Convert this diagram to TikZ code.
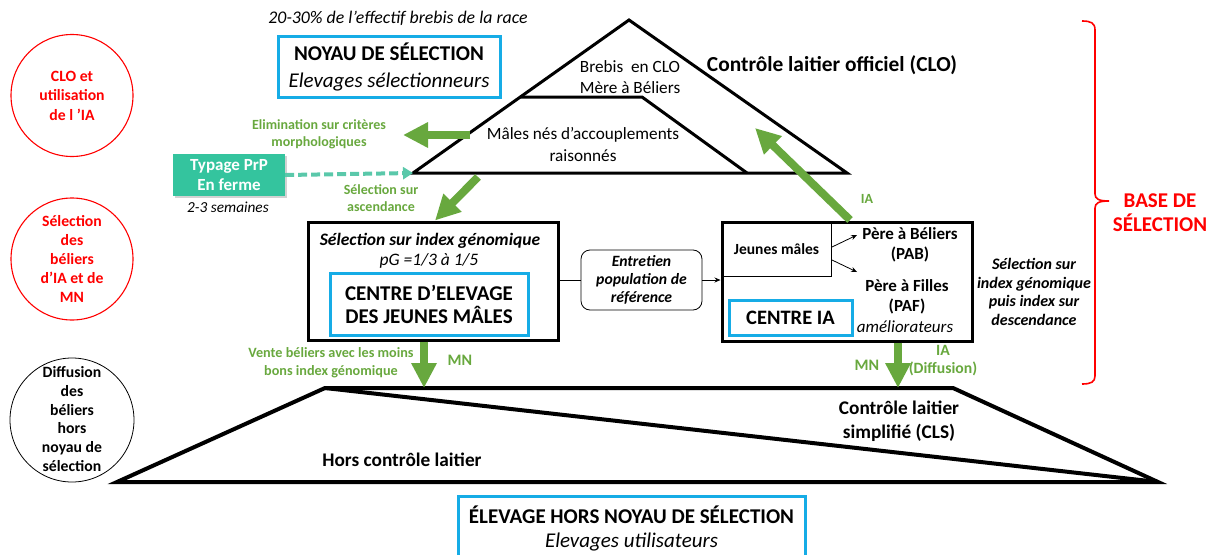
\documentclass[tikz,border=0pt]{standalone}
\usepackage{fontspec}
\setmainfont{Carlito}
\usetikzlibrary{arrows.meta,shadows}
\definecolor{grn}{RGB}{104,168,62}
\definecolor{cyanb}{RGB}{22,172,230}
\definecolor{tealbox}{RGB}{52,196,158}
\definecolor{tealdash}{RGB}{90,200,170}
\newcommand{\fsz}[2]{\fontsize{#1}{#2}\selectfont}
\tikzset{
  txt/.style={inner sep=0pt, align=center},
  bluebox/.style={draw=cyanb, line width=3pt, inner sep=0pt, align=center},
  blackbox/.style={draw=black, line width=3pt, inner sep=0pt},
  garrow/.style={draw=grn, line width=8pt, -{Triangle[length=25pt,width=24pt]}},
  glabel/.style={txt, text=grn, font=\bfseries\fsz{14}{17}},
  redcirc/.style={circle, draw=red, line width=1.1pt, inner sep=0pt, minimum size=122pt},
  thinarrow/.style={-{Stealth[length=6pt,width=5pt]}, line width=0.8pt},
}
\begin{document}
\begin{tikzpicture}[x=1pt,y=-1pt]
\useasboundingbox (0,0) rectangle (1215,554);

% left circles
\node[redcirc] (c1) at (72,95.5) {};
\node[redcirc] (c2) at (72,259) {};
\node[redcirc, draw=black, line width=0.8pt, minimum size=124pt] (c3) at (72,420) {};
\node[txt, text=red, font=\bfseries\fsz{15.7}{19.5}] (t1) at (c1) {CLO et\\utilisation\\de l 'IA};
\node[txt, text=red, font=\bfseries\fsz{15.7}{18.8}] (t2) at (c2) {Sélection\\des\\béliers\\d’IA et de\\MN};
\node[txt, font=\bfseries\fsz{15.7}{18.8}] (t3) at (72,419) {Diffusion\\des\\béliers\\hors\\noyau de\\sélection};

% top triangle
\coordinate (apex) at (629,20);
\coordinate (tl) at (413,173);
\coordinate (tr) at (847,173);
\coordinate (il) at (520.3,97);
\coordinate (ir) at (642,97);
\coordinate (ib) at (747,173);
\draw[line width=3pt, line join=miter] (apex) -- (tr) -- (tl) -- cycle;
\draw[line width=3pt] (il) -- (ir) -- (ib);
\node[txt, font=\fsz{17.2}{21}] (brebis) at (630,77) {Brebis\ \ en CLO\\Mère à Béliers};
\node[txt, font=\fsz{17.2}{22}] (males) at (583,144) {Mâles nés d’accouplements\\raisonnés};
\node[txt, font=\bfseries\fsz{21.4}{24}] (clo) at (832,65) {Contrôle laitier officiel (CLO)};
\node[txt, font=\itshape\fsz{17.8}{19}] (pct) at (398,18) {20-30\% de l’effectif brebis de la race};

% noyau box
\node[bluebox, minimum width=222pt, minimum height=61pt, font=\fsz{21}{27}] (noyau) at (389,66.5)
  {\textbf{NOYAU DE SÉLECTION}\\\textit{Elevages sélectionneurs}};

% typage box
\node[fill=tealbox, minimum width=112pt, minimum height=42pt, inner sep=0pt, align=center,
  text=white, font=\bfseries\fsz{17}{20},
  drop shadow={shadow xshift=2pt, shadow yshift=-2pt, fill=black!35}] (typ) at (229,175) {Typage PrP\\En ferme};
\node[txt, font=\itshape\fsz{15.3}{18}] (sem) at (228,207) {2-3 semaines};
\draw[tealdash, line width=4pt, dash pattern=on 9pt off 4pt, -{Triangle[length=10pt,width=12pt]}] (typ.east) -- (tl);

% green arrows from triangle
\coordinate (elimA) at (470,135);
\coordinate (elimB) at (403,135);
\draw[garrow] (elimA) -- (elimB);
\node[glabel] (elimL) at (319,134) {Elimination sur critères\\morphologiques};
\coordinate (ascA) at (478,177);
\node[glabel] (ascL) at (381,198) {Sélection sur\\ascendance};

% left box
\node[blackbox, minimum width=250pt, minimum height=118pt] (lbox) at (433,281) {};
\draw[garrow] (ascA) -- (lbox.north -| 435,0);
\node[txt, font=\bfseries\itshape\fsz{17.5}{20}] (selg) at (430,241) {Sélection sur index génomique};
\node[txt, font=\itshape\fsz{17.5}{20}] (pg) at (429,261) {pG =1/3 à 1/5};
\node[bluebox, minimum width=198pt, minimum height=62pt, font=\bfseries\fsz{21}{23}] (cejm) at (429,304) {CENTRE D’ELEVAGE\\DES JEUNES MÂLES};

% entretien
\node[draw, rounded corners=9pt, line width=0.8pt, minimum width=121pt, minimum height=60pt, inner sep=0pt, align=center,
  font=\bfseries\itshape\fsz{15.7}{18.3}] (ent) at (641.5,280) {Entretien\\population de\\référence};

% right box
\node[blackbox, minimum width=250pt, minimum height=119pt] (rbox) at (847,281.5) {};
\draw[line width=0.8pt] (lbox.east |- ent.west) -- (ent.west);
\draw[thinarrow] (ent.east) -- (rbox.west |- ent.east);
\node[draw, line width=0.8pt, minimum width=109pt, minimum height=54pt, inner sep=0pt, font=\bfseries\fsz{15.5}{18}] (jm) at (776.5,249) {Jeunes mâles};
\node[txt, font=\bfseries\fsz{17}{20}] (pab) at (910,245) {Père à Béliers\\(PAB)};
\node[txt, font=\bfseries\fsz{17}{20}] (paf) at (907,297) {Père à Filles\\(PAF)};
\node[txt, font=\itshape\fsz{17}{20}] (amel) at (905,327) {améliorateurs};
\coordinate (a1s) at (832,247);
\coordinate (a1e) at (857,235);
\coordinate (a2s) at (832,260);
\coordinate (a2e) at (857,272);
\draw[thinarrow] (a1s) -- (a1e);
\draw[thinarrow] (a2s) -- (a2e);
\node[bluebox, minimum width=123pt, minimum height=35pt, font=\bfseries\fsz{20.5}{23}] (cia) at (790.5,317.5) {CENTRE IA};

% IA arrow
\coordinate (iaA) at (850,220);
\coordinate (iaB) at (755,128);
\draw[garrow] (iaA) -- (iaB);
\node[glabel] (iaL) at (867,199) {IA};

\node[txt, font=\bfseries\itshape\fsz{16}{18.8}] (selr) at (1034,292) {Sélection sur\\index génomique\\puis index sur\\descendance};

% brace
\coordinate (brT) at (1082,21);
\coordinate (brM) at (1109,201);
\coordinate (brB) at (1082,384);
\draw[red, line width=1.6pt] (brT) .. controls (1091,21) and (1095,23) .. (1095,30) -- (1095,194)
  .. controls (1095,199) and (1099,201) .. (brM)
  .. controls (1099,201) and (1095,203) .. (1095,208) -- (1095,376)
  .. controls (1095,382) and (1091,384) .. (brB);
\node[txt, text=red, font=\bfseries\fsz{21}{24}] (base) at (1160,213) {BASE DE\\SÉLECTION};

% lower trapezoid
\coordinate (bTL) at (325,388);
\coordinate (bTR) at (953,388);
\coordinate (bBR) at (1158,482);
\coordinate (bBL) at (117,482);
\draw[line width=4pt, line join=miter] (bTL) -- (bTR) -- (bBR) -- (bBL) -- cycle;
\draw[line width=4pt] (bTL) -- (bBR);
\node[txt, font=\bfseries\fsz{19.3}{24}] (cls) at (899,421) {Contrôle laitier\\simplifié (CLS)};
\node[txt, font=\bfseries\fsz{19.3}{22}] (hors) at (402,460) {Hors contrôle laitier};

% down arrows
\draw[garrow] (lbox.south -| 424,0) -- (424,388);
\node[glabel, font=\bfseries\fsz{14.2}{18}] (vente) at (331,363) {Vente béliers avec les moins\\bons index génomique};
\node[glabel, font=\bfseries\fsz{16}{19}] (mn1) at (460,360) {MN};
\draw[garrow] (rbox.south -| 898,0) -- (898,388);
\node[glabel, font=\bfseries\fsz{16}{19}] (mn2) at (867,365) {MN};
\node[glabel, font=\bfseries\fsz{15.7}{18}] (iad) at (943,361) {IA\\(Diffusion)};

% bottom box
\node[bluebox, minimum width=347pt, minimum height=64pt, font=\fsz{21}{24}] (hbox) at (631.5,528)
  {\textbf{ÉLEVAGE HORS NOYAU DE SÉLECTION}\\\textit{Elevages utilisateurs}};
\end{tikzpicture}
\end{document}
